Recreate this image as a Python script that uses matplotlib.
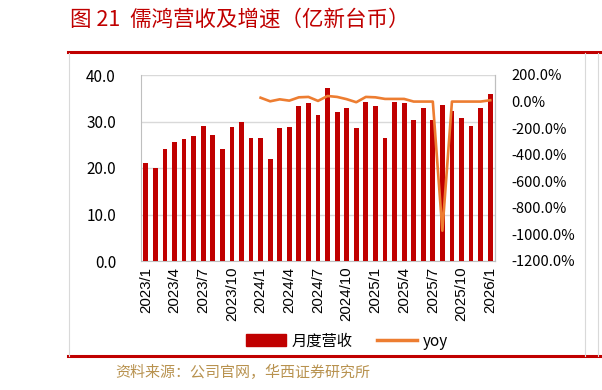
import matplotlib
matplotlib.use("Agg")
import matplotlib.pyplot as plt
from matplotlib.ticker import FuncFormatter
from matplotlib.lines import Line2D
from matplotlib.patches import Patch
import numpy as np

plt.rcParams['font.family'] = ['Noto Sans CJK SC', 'DejaVu Sans']

months = []
for y in (2023, 2024, 2025):
    for m in range(1, 13):
        months.append(f"{y}/{m}")
months.append("2026/1")

revenue = [21.0, 20.1, 24.0, 25.6, 26.2, 26.9, 29.1, 27.2, 24.0, 28.8, 29.8, 26.5,
           26.5, 22.0, 28.5, 28.8, 33.3, 34.0, 31.4, 37.2, 32.0, 33.0, 28.5, 34.2,
           33.3, 26.5, 34.2, 33.9, 30.4, 33.0, 30.3, 33.6, 32.3, 30.7, 29.1, 33.0, 35.9]

yoy = [None] * 12 + [29, 2, 17, 7, 32, 35, 5, 42, 35, 18, -5, 35,
                     32, 20, 20, 20, 0, 0, 0, -972, 0, 0, 0, 0, 10]

tick_labels = ["2023/1", "2023/4", "2023/7", "2023/10", "2024/1", "2024/4", "2024/7",
               "2024/10", "2025/1", "2025/4", "2025/7", "2025/10", "2026/1"]

title = "图 21  儒鸿营收及增速（亿新台币）"
source = "资料来源：公司官网，华西证券研究所"

W, H = 602, 390
fig = plt.figure(figsize=(W / 100, H / 100), dpi=100)

red = "#C00000"
orange = "#ED7D31"

# decorations
fig.text(70 / W, 1 - 20 / H, title, color=red, fontsize=15.5, fontweight="light",
         va="center", ha="left")
fig.add_artist(Line2D([68 / W, 1], [1 - 52 / H, 1 - 52 / H], color=red, lw=2.2))
fig.add_artist(Line2D([68 / W, 1], [1 - 356 / H, 1 - 356 / H], color=red, lw=2.2))
fig.add_artist(Line2D([68.5 / W, 68.5 / W], [1 - 356 / H, 1 - 53 / H], color="#D9D9D9", lw=0.8))
fig.add_artist(Line2D([585 / W, 585 / W], [1 - 356 / H, 1 - 53 / H], color="#D9D9D9", lw=0.8))
fig.add_artist(Line2D([598 / W, 598 / W], [1 - 356 / H, 1 - 53 / H], color="#D9D9D9", lw=0.8))
fig.text(115 / W, 1 - 372 / H, source, color="#B8924F", fontsize=10.8, va="center", ha="left")

ax = fig.add_axes([141 / W, 1 - 261 / H, 354 / W, 186 / H])
x = np.arange(len(months))
ax.bar(x, revenue, width=0.5, color=red, zorder=3)
ax.set_xlim(-0.5, len(months) - 0.5)
ax.set_ylim(0, 40)
ax.set_yticks([0, 10, 20, 30, 40])
ax.yaxis.set_major_formatter(FuncFormatter(lambda v, p: f"{v:.1f}"))
ax.grid(axis="y", color="#D9D9D9", lw=1, zorder=0)
ax.set_xticks([months.index(t) for t in tick_labels])
ax.set_xticklabels(tick_labels, rotation=90, fontfamily=["Liberation Sans", "DejaVu Sans"], fontsize=10.8)
ax.tick_params(axis="x", length=0, pad=4)
ax.tick_params(axis="y", length=0, pad=18, labelsize=11)
for s in ("top",):
    ax.spines[s].set_visible(False)
for s in ("left", "right", "bottom"):
    ax.spines[s].set_color("#BFBFBF")

ax2 = ax.twinx()
yx = [i for i, v in enumerate(yoy) if v is not None]
yv = [v for v in yoy if v is not None]
ax2.plot(yx, yv, color=orange, lw=1.9, zorder=4)
ax2.set_ylim(-1200, 200)
ax2.set_yticks(np.arange(-1200, 201, 200))
ax2.yaxis.set_major_formatter(FuncFormatter(lambda v, p: f"{v:.1f}%"))
ax2.tick_params(axis="y", length=0, pad=12, labelsize=10.5)
for s in ("top", "left", "bottom"):
    ax2.spines[s].set_visible(False)
ax2.spines["right"].set_color("#BFBFBF")

handles = [Patch(color=red), Line2D([0], [0], color=orange, lw=2.5)]
fig.legend(handles, ["月度营收", "yoy"], loc="center", bbox_to_anchor=(347 / W, 1 - 341 / H),
           ncol=2, frameon=False, fontsize=11, handlelength=2.6, handleheight=0.8,
           columnspacing=1.6, handletextpad=0.4, borderpad=0)

fig.savefig("out.png", dpi=100)
